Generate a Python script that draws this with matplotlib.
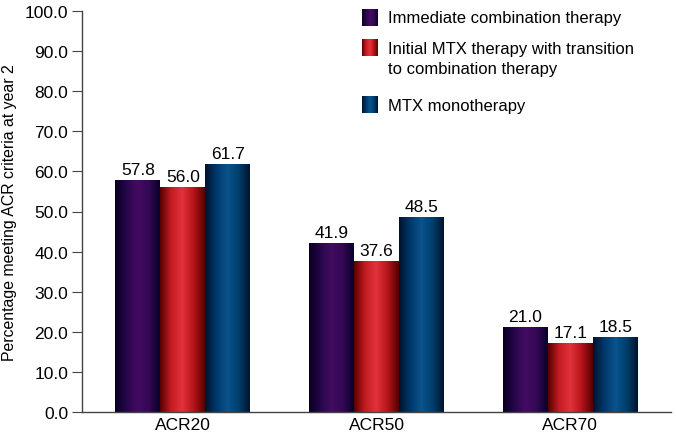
import numpy as np
import matplotlib
matplotlib.use("Agg")
import matplotlib.pyplot as plt
from matplotlib.patches import Rectangle
from matplotlib.colors import LinearSegmentedColormap

plt.rcParams['font.family'] = ['Liberation Sans', 'DejaVu Sans']

categories = ["ACR20", "ACR50", "ACR70"]
series_names = ["Immediate combination therapy",
                "Initial MTX therapy with transition\nto combination therapy",
                "MTX monotherapy"]
immediate = [57.8, 41.9, 21.0]
initial_mtx = [56.0, 37.6, 17.1]
mtx_mono = [61.7, 48.5, 18.5]
values = [immediate, initial_mtx, mtx_mono]

# dark edge -> bright middle -> dark edge
gradients = [
    ["#06001f", "#26064a", "#430c62", "#340854", "#08012a"],
    ["#550000", "#c41c22", "#e2323a", "#b5141b", "#550000"],
    ["#00122b", "#00376a", "#0a538c", "#003f6d", "#00132c"],
]
cmaps = [LinearSegmentedColormap.from_list(f"g{i}", g) for i, g in enumerate(gradients)]

W, H = 676, 435
fig = plt.figure(figsize=(W / 100, H / 100), dpi=100)
ax = fig.add_axes([82 / W, 22 / H, 589 / W, 401 / H])

x = np.arange(len(categories))
width = 0.232
grad = np.linspace(0, 1, 256).reshape(1, -1)

for i, vals in enumerate(values):
    for xi, v in zip(x, vals):
        x0 = xi + (i - 1) * width - width / 2
        ax.imshow(grad, cmap=cmaps[i], extent=(x0, x0 + width, 0, v),
                  aspect='auto', origin='lower', zorder=2, interpolation='bilinear')
        ax.text(x0 + width / 2, v + 0.9, f"{v:.1f}", ha='center', va='bottom',
                fontsize=12.5, color='black')

ax.set_xlim(-0.52, 2.52)
ax.set_ylim(0, 100)
ticks = np.arange(0, 101, 10)
ax.set_yticks(ticks)
ax.set_yticklabels([f"{t:.1f}" for t in ticks], fontsize=12.5)
ax.set_xticks(x)
ax.set_xticklabels(categories, fontsize=12.5)
ax.tick_params(axis='x', length=0, pad=3.5)
ax.tick_params(axis='y', length=7, direction='out', color='#444444', pad=3)
ax.set_ylabel("Percentage meeting ACR criteria at year 2", fontsize=11.4)
ax.yaxis.set_label_coords(-0.11, 0.5)
for s in ['top', 'right']:
    ax.spines[s].set_visible(False)
for s in ['left', 'bottom']:
    ax.spines[s].set_color('#444444')
    ax.spines[s].set_linewidth(1.0)

# legend drawn by hand (uneven row spacing in the original)
sw_top = [10, 40, 97]
txt_y = [18.5, 59.5, 106]
for cmap, name, top, ty in zip(cmaps, series_names, sw_top, txt_y):
    n = 16
    for k in range(n):
        fig.patches.append(Rectangle(((362 + 16 * k / n) / W, (H - top - 17) / H),
                                     (16 / n + 0.3) / W, 17 / H,
                                     facecolor=cmap((k + 0.5) / n), edgecolor='none',
                                     transform=fig.transFigure, figure=fig))
    fig.text(388 / W, (H - ty) / H, name, ha='left', va='center',
             fontsize=12, linespacing=1.45)

fig.savefig("out.png", dpi=100)
